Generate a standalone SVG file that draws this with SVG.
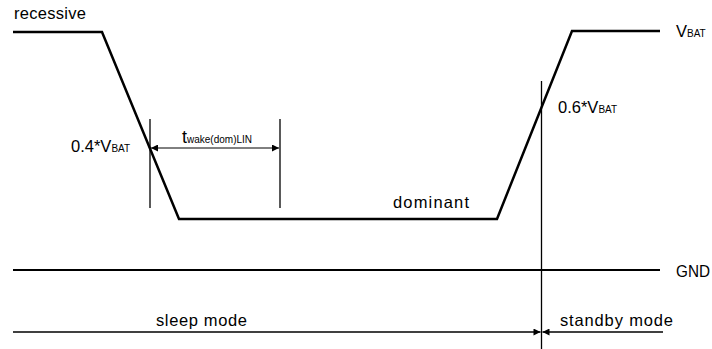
<svg xmlns="http://www.w3.org/2000/svg" width="712" height="349" viewBox="0 0 712 349">
<defs>
<style>
.t{font-family:"Liberation Sans",Arial,sans-serif;fill:#000;font-size:16.5px}
.s{font-size:10px}
.w{fill:none;stroke:#000;stroke-width:2.5;stroke-linejoin:miter}
.l{fill:none;stroke:#000;stroke-width:1.3}
.a{fill:none;stroke:#000;stroke-width:1}
</style>
<marker id="ah" viewBox="0 0 10 10" refX="10" refY="5" markerWidth="10" markerHeight="7" markerUnits="userSpaceOnUse" orient="auto-start-reverse">
<path d="M0,0 L10,5 L0,10 z" fill="#000"/>
</marker>
</defs>
<g id="waveform">
<polyline class="w" points="13,32 102,32 179,219 497,219 572,31 660,31"/>
</g>
<g id="gnd">
<line class="w" x1="13" y1="270" x2="660" y2="270" style="stroke-width:2"/>
</g>
<g id="connectors">
<line class="l" x1="150" y1="119" x2="150" y2="208"/>
<line class="l" x1="280" y1="119" x2="280" y2="208"/>
<line class="a" x1="151" y1="148" x2="279" y2="148" marker-start="url(#ah)" marker-end="url(#ah)"/>
<line class="l" x1="541.5" y1="81" x2="541.5" y2="349"/>
<line class="l" x1="13" y1="332" x2="540.5" y2="332" marker-end="url(#ah)"/>
<line class="l" x1="663" y1="332" x2="542.5" y2="332" marker-end="url(#ah)"/>
</g>
<g id="labels">
<text class="t" x="14" y="19" textLength="72">recessive</text>
<text class="t" x="676" y="37">V<tspan class="s">BAT</tspan></text>
<text class="t" x="558" y="113">0.6*V<tspan class="s">BAT</tspan></text>
<text class="t" x="71" y="152">0.4*V<tspan class="s">BAT</tspan></text>
<text class="t" x="182" y="143" style="font-size:18px">t<tspan class="s">wake(dom)LIN</tspan></text>
<text class="t" x="393" y="208" textLength="76">dominant</text>
<text class="t" x="676" y="277" textLength="34" lengthAdjust="spacingAndGlyphs">GND</text>
<text class="t" x="156" y="326" textLength="91">sleep mode</text>
<text class="t" x="560" y="326" textLength="113">standby mode</text>
</g>
</svg>
